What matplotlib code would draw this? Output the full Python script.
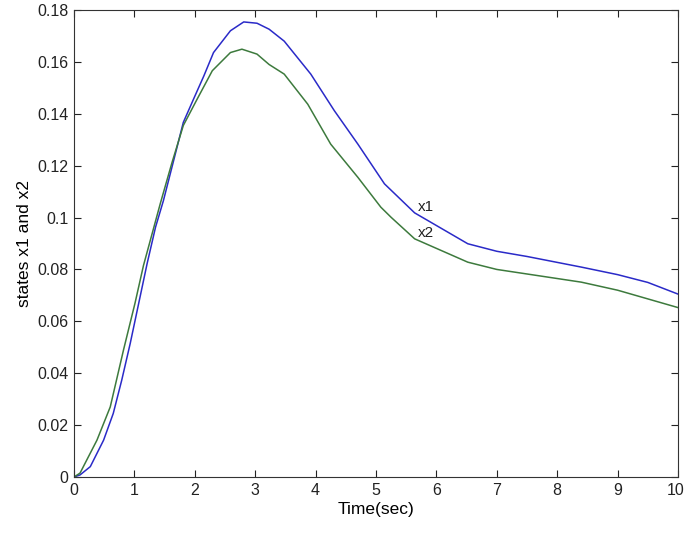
import matplotlib
matplotlib.use("Agg")
import matplotlib.pyplot as plt
from matplotlib.transforms import ScaledTranslation

# values
t1 = [0, 0.1, 0.27, 0.49, 0.65, 0.79, 0.93, 1.07, 1.21, 1.35, 1.48, 1.65, 1.81, 1.98,
      2.15, 2.31, 2.59, 2.81, 3.03, 3.23, 3.48, 3.92, 4.31, 4.70, 5.14, 5.64, 6.52, 7.0,
      7.5, 8.4, 9.0, 9.5, 10]
x1 = [0, 0.0008, 0.004, 0.0142, 0.0245, 0.0373, 0.0514, 0.0668, 0.0822, 0.0963, 0.1065,
      0.122, 0.1367, 0.1457, 0.1546, 0.1636, 0.172, 0.1754, 0.1749, 0.1726, 0.168, 0.1553,
      0.1412, 0.1283, 0.113, 0.1018, 0.0899, 0.087, 0.085, 0.0809, 0.078, 0.075, 0.0705]

t2 = [0, 0.1, 0.21, 0.38, 0.6, 0.82, 1.01, 1.15, 1.43, 1.62, 1.81, 2.04, 2.29, 2.59, 2.78,
      3.03, 3.23, 3.48, 3.87, 4.25, 4.70, 5.08, 5.25, 5.64, 6.52, 7.0, 8.4, 9.0, 10]
x2 = [0, 0.0015, 0.0065, 0.0142, 0.027, 0.049, 0.067, 0.0815, 0.1055, 0.121, 0.1355,
      0.1457, 0.1566, 0.1636, 0.1649, 0.163, 0.159, 0.1553, 0.1437, 0.1283, 0.1155, 0.104,
      0.1001, 0.0918, 0.0828, 0.080, 0.0751, 0.072, 0.0653]

xticks = list(range(0, 11))
yticks = [0, 0.02, 0.04, 0.06, 0.08, 0.1, 0.12, 0.14, 0.16, 0.18]
ylabels = ["0", "0.02", "0.04", "0.06", "0.08", "0.1", "0.12", "0.14", "0.16", "0.18"]

plt.rcParams['font.family'] = ['Liberation Sans', 'DejaVu Sans']

fig = plt.figure(figsize=(6.85, 5.34), dpi=100)
ax = fig.add_axes([74 / 685, 57 / 534, 604 / 685, 467 / 534])

ax.plot(t1, x1, color='#2a2ac8', lw=1.1)
ax.plot(t2, x2, color='#3d7a3d', lw=1.1)

ax.text(5.69, 0.104, "x1", fontsize=11, color='#222222', va='center', ha='left')
ax.text(5.69, 0.094, "x2", fontsize=11, color='#222222', va='center', ha='left')

ax.set_xlim(0, 10)
ax.set_ylim(0, 0.18)
ax.set_xticks(xticks)
ax.set_yticks(yticks)
ax.set_yticklabels(ylabels)
ax.tick_params(direction='in', length=5, width=0.8, labelsize=11.5,
               top=True, right=True, colors='#222222', pad=4)
for sp in ax.spines.values():
    sp.set_linewidth(0.8)
    sp.set_color('#333333')

# nudge the "10" label so it stays inside the picture
last = ax.get_xticklabels()[-1]
last.set_transform(last.get_transform() + ScaledTranslation(-2.5 / 100, 0, fig.dpi_scale_trans))

ax.set_xlabel("Time(sec)", fontsize=12.5, labelpad=3)
ax.set_ylabel("states x1 and x2", fontsize=12.5, labelpad=4)

fig.savefig("out.png", dpi=100)
